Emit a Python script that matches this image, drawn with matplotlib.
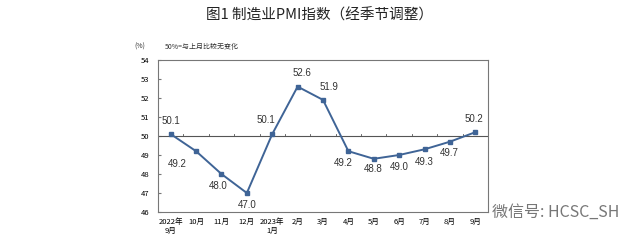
import matplotlib.pyplot as plt
import numpy as np

months = ['2022年\n9月', '10月', '11月', '12月', '2023年\n1月', '2月', '3月',
          '4月', '5月', '6月', '7月', '8月', '9月']
pmi = [50.1, 49.2, 48.0, 47.0, 50.1, 52.6, 51.9, 49.2, 48.8, 49.0, 49.3, 49.7, 50.2]
# label offsets (dx, dy) in pixels relative to each point
label_off = [(0, 13), (-19, -13), (-3, -12), (0, -12), (-6, 14), (4, 14), (6, 13),
             (-5, -12), (-1, -10), (0, -12), (0, -13), (-1, -11), (-1, 13)]

plt.rcParams['font.family'] = ['Noto Sans CJK SC', 'DejaVu Sans']

fig = plt.figure(figsize=(6.4, 2.41), dpi=100)
ax = fig.add_axes([158 / 640, 1 - 212 / 241, 330 / 640, 152 / 241])

x = np.arange(len(pmi))
line_color = '#3f6496'
ax.plot(x, pmi, color=line_color, lw=1.4, marker='s', ms=3, zorder=3)
ax.axhline(50, color='#555555', lw=0.8, zorder=2)
# small ticks on the 50 line at category boundaries
for b in np.arange(0.5, 12, 1):
    ax.plot([b, b], [50, 50.12], color='#555555', lw=0.6, zorder=2)

for xi, v, (dx, dy) in zip(x, pmi, label_off):
    ax.annotate(f'{v:.1f}', (xi, v), xytext=(dx * 0.72, dy * 0.72),
                textcoords='offset points', ha='center', va='center',
                fontsize=7, color='#333333', family=['Liberation Sans'])

ax.set_xlim(-0.5, 12.5)
ax.set_ylim(46, 54)
ax.set_yticks(range(46, 55))
ax.tick_params(axis='y', labelsize=5.5, length=2, direction='in', color='#777777', pad=6)
ax.set_xticks(x)
ax.set_xticklabels(months, fontsize=5.5)
ax.tick_params(axis='x', length=0, pad=4)
for s in ax.spines.values():
    s.set_color('#777777')
    s.set_linewidth(0.8)

fig.text(0.5, 1 - 15 / 241, '图1 制造业PMI指数（经季节调整）', ha='center', va='center',
         fontsize=10.5, color='#222222', weight='medium')
fig.text(140 / 640, 1 - 47 / 241, '(%)', ha='center', va='center', fontsize=5, color='#333333')
fig.text(165 / 640, 1 - 47 / 241, '50%=与上月比较无变化', ha='left', va='center',
         fontsize=5, color='#333333')
fig.text(492 / 640, 1 - 212 / 241, '微信号: HCSC_SH', ha='left', va='center',
         fontsize=11.5, color='#777777', weight='light')

fig.savefig('out.png', dpi=100)
